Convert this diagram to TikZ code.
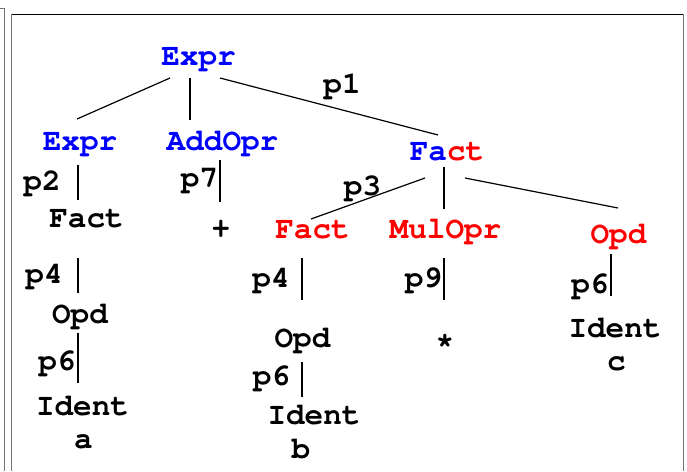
\documentclass[tikz,border=0pt]{standalone}
\usepackage[T1]{fontenc}
\usepackage{courier}
\begin{document}
\begin{tikzpicture}[x=1pt,y=-1pt,
  lbl/.style={font=\ttfamily\bfseries\fontsize{31}{36}\selectfont, anchor=base, inner sep=0pt},
  blu/.style={lbl,text=blue},
  rd/.style={lbl,text=red},
  edge/.style={line width=1.2pt, black},
  frameline/.style={line width=1pt, draw=black!55}]
\useasboundingbox (0,0) rectangle (687,471);
% frame
\draw[frameline] (0,8.5) -- (4.7,8.5) -- (4.7,471);
\draw[frameline] (11.8,471) -- (11.8,14) -- (683,14) -- (683,471);
\draw[line width=0.6pt, black] (11.8,14) -- (683,14);
% nodes
\node[blu] (e0) at (198.5,65) {Expr};
\node[blu] (e1) at (80,150) {Expr};
\node[blu] (ao) at (222.5,150) {AddOpr};
\node[lbl] (f0) at (447,160) {\textcolor{blue}{Fa}\textcolor{red}{ct}};
\node[lbl] (p1) at (342,93) {p1};
\node[lbl] (p2) at (42,190) {p2};
\node[lbl] (f1) at (86.5,227) {Fact};
\node[lbl] (p4a) at (44,283) {p4};
\node[lbl] (o1) at (80,323) {Opd};
\node[lbl] (p6a) at (57,370) {p6};
\node[lbl] (i1) at (82.5,415) {Ident};
\node[lbl] (va) at (83.5,448) {a};
\node[lbl] (p7) at (199.5,187) {p7};
\node[lbl] (plus) at (221,237) {+};
\node[lbl] (p3) at (362.5,195) {p3};
\node[rd] (f2) at (312.5,238) {Fact};
\node[rd] (mo) at (445.5,238) {MulOpr};
\node[rd] (od) at (618.5,243) {Opd};
\node[lbl] (p4b) at (271,287) {p4};
\node[lbl] (p9) at (423.5,287) {p9};
\node[lbl] (o2) at (302.5,347) {Opd};
\node[lbl] (star) at (445,349) {*};
\node[lbl] (p6b) at (271.5,385) {p6};
\node[lbl] (i2) at (314,424) {Ident};
\node[lbl] (vb) at (301,458) {b};
\node[lbl] (p6c) at (590,293) {p6};
\node[lbl] (i3) at (615,337) {Ident};
\node[lbl] (vc) at (616.5,370) {c};
% connector end points
\coordinate (e0a) at (170,78);  \coordinate (e1a) at (77,119);
\coordinate (e0b) at (190,78);  \coordinate (aoa) at (190,120);
\coordinate (e0c) at (220,78);  \coordinate (f0a) at (438,135);
\coordinate (e1b) at (78,165);  \coordinate (f1a) at (78,200);
\coordinate (f1b) at (78,258);  \coordinate (o1a) at (78,293);
\coordinate (o1b) at (78,333);  \coordinate (i1a) at (78,383);
\coordinate (aob) at (220,160); \coordinate (plusa) at (220,202);
\coordinate (f0b) at (425,178); \coordinate (f2a) at (311,219);
\coordinate (f0c) at (444,167); \coordinate (moa) at (444,209);
\coordinate (f0d) at (465,178); \coordinate (oda) at (618,208);
\coordinate (f2b) at (302,258); \coordinate (o2a) at (302,300);
\coordinate (mob) at (444,258); \coordinate (stara) at (444,300);
\coordinate (odb) at (611,254); \coordinate (i3a) at (611,296);
\coordinate (o2b) at (302,362); \coordinate (i2a) at (302,397);
% connectors
\draw[edge] (e0a) -- (e1a);
\draw[edge] (e0b) -- (aoa);
\draw[edge] (e0c) -- (f0a);
\draw[edge] (e1b) -- (f1a);
\draw[edge] (f1b) -- (o1a);
\draw[edge] (o1b) -- (i1a);
\draw[edge] (aob) -- (plusa);
\draw[edge] (f0b) -- (f2a);
\draw[edge] (f0c) -- (moa);
\draw[edge] (f0d) -- (oda);
\draw[edge] (f2b) -- (o2a);
\draw[edge] (mob) -- (stara);
\draw[edge] (odb) -- (i3a);
\draw[edge] (o2b) -- (i2a);
\end{tikzpicture}
\end{document}
